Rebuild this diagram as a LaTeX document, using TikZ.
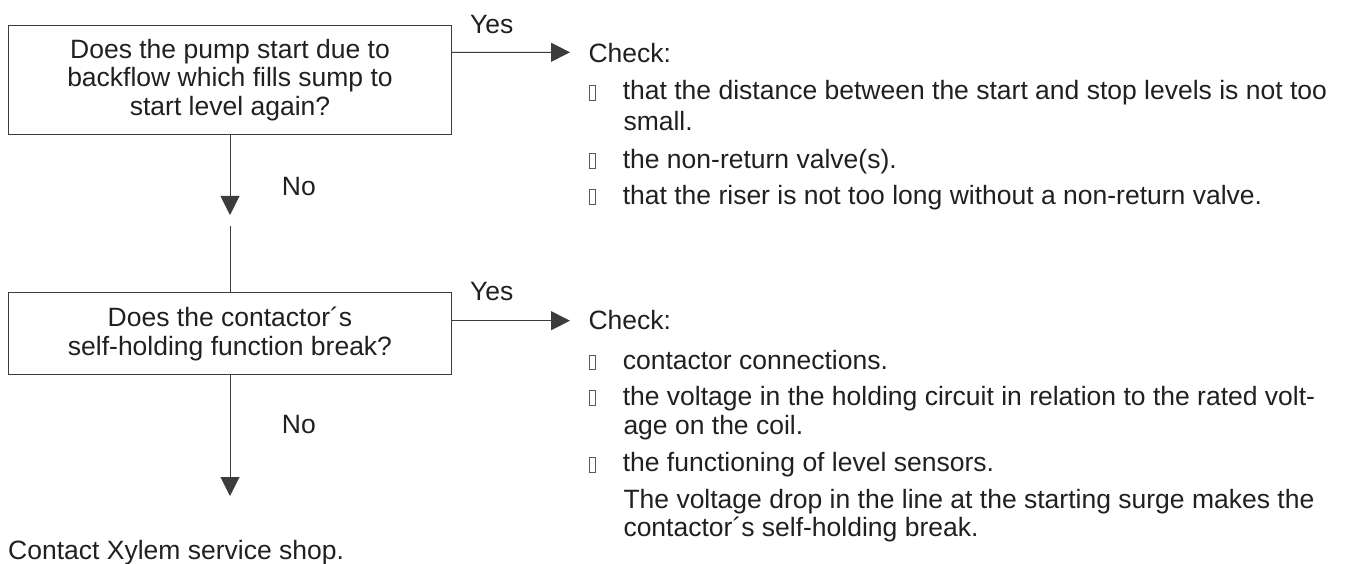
\documentclass[tikz,border=0pt]{standalone}
\usepackage{fontspec}
\setmainfont{Liberation Sans}
\usetikzlibrary{arrows.meta}
\definecolor{ink}{RGB}{35,31,32}
\definecolor{rule}{RGB}{60,60,60}
\definecolor{tofugray}{RGB}{90,90,90}
\newcommand\tofu{\makebox[34.3pt][l]{{\color{tofugray}\setlength\fboxsep{0pt}\setlength\fboxrule{0.8pt}\fbox{\rule{0pt}{14pt}\hspace{6pt}}}}}
\begin{document}
\begin{tikzpicture}[x=1pt,y=-1pt,
  every node/.style={inner sep=0pt, text=ink, font=\fontsize{26.5pt}{29pt}\selectfont},
  qbox/.style={draw=rule, line width=1pt, align=center, minimum width=443.4pt},
  lbl/.style={anchor=base west},
  conn/.style={draw=rule, line width=1pt},
  arr/.style={conn, -{Triangle[length=19pt,width=19pt]}}]
\useasboundingbox (0,0) rectangle (1345,564);

% question boxes
\node[qbox, minimum height=108.3pt] (q1) at (230,80.15)
  {Does the pump start due to\\backflow which fills sump to\\start level again?};
\node[qbox, minimum height=81.6pt] (q2) at (230,333.5)
  {Does the contactor´s\\self-holding function break?};

% labels on connectors
\node[lbl] (yes1) at (470,33.3) {Yes};
\node[lbl] (yes2) at (470,300.7) {Yes};
\node[lbl] (no1) at (281.7,196) {No};
\node[lbl] (no2) at (281.7,433.3) {No};

% first check list
\node[lbl] (check1) at (588.3,63) {Check:};
\node[lbl] (a1) at (588.3,100) {\tofu that the distance between the start and stop levels is not too};
\node[lbl] (a1b) at (623.3,131) {small.};
\node[lbl] (a2) at (588.3,168.3) {\tofu the non-return valve(s).};
\node[lbl] (a3) at (588.3,204.3) {\tofu that the riser is not too long without a non-return valve.};

% second check list
\node[lbl] (check2) at (588.3,330) {Check:};
\node[lbl] (b1) at (588.3,369.3) {\tofu contactor connections.};
\node[lbl] (b2) at (588.3,405) {\tofu the voltage in the holding circuit in relation to the rated volt-};
\node[lbl] (b2b) at (623.3,434) {age on the coil.};
\node[lbl] (b3) at (588.3,471.7) {\tofu the functioning of level sensors.};
\node[lbl] (b4) at (623.3,508.3) {The voltage drop in the line at the starting surge makes the};
\node[lbl] (b4b) at (623.3,536) {contactor´s self-holding break.};

% final text
\node[lbl] (contact) at (8,559.3) {Contact Xylem service shop.};

% connector end points
\coordinate (t1) at (570,52.3);
\coordinate (t2) at (570,320.7);
\coordinate (n1) at (230,215);
\coordinate (n1r) at (230,225.7);
\coordinate (n2) at (230,496);

% connectors
\draw[arr] ([yshift=27.85pt]q1.east) -- (t1);
\draw[arr] ([yshift=12.8pt]q2.east) -- (t2);
\draw[arr] (q1.south) -- (n1);
\draw[conn] (n1r) -- (q2.north);
\draw[arr] (q2.south) -- (n2);
\end{tikzpicture}
\end{document}
